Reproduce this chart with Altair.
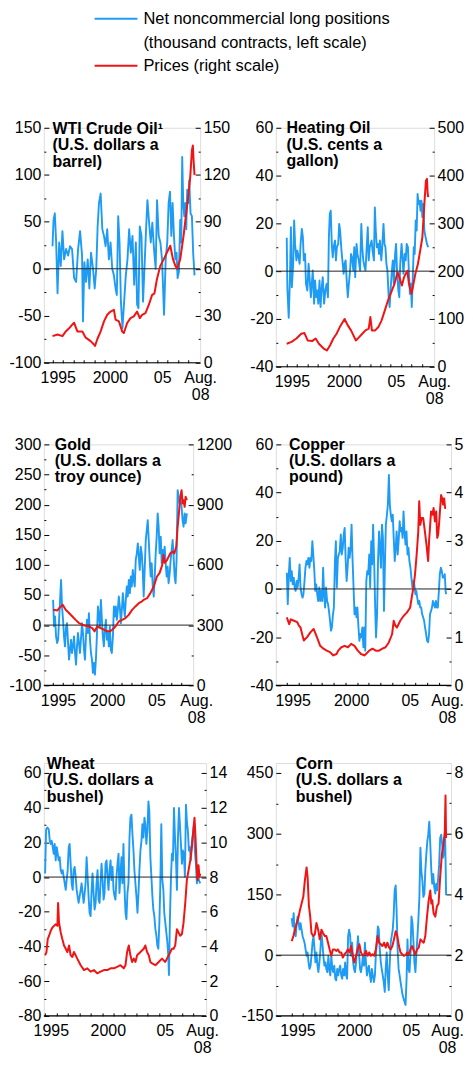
import altair as alt
import pandas as pd

FONT = "Liberation Sans"
BLUE = "#1E9BF5"
RED = "#F01414"
INK = "#000000"

LEGEND_LINES = ["Net noncommercial long positions",
                "(thousand contracts, left scale)",
                "Prices (right scale)"]
TITLES = ["WTI Crude Oil\u00b9\n(U.S. dollars a\nbarrel)",
          "Heating Oil\n(U.S. cents a\ngallon)",
          "Gold\n(U.S. dollars a\ntroy ounce)",
          "Copper\n(U.S. dollars a\npound)",
          "Wheat\n(U.S. dollars a\nbushel)",
          "Corn\n(U.S. dollars a\nbushel)"]
YEAR_TICKS = list(range(1995, 2009))

# ---------------- data: (year, value) ----------------
WTI_POS = [(1995.00,24),(1995.10,52),(1995.22,59),(1995.35,28),(1995.48,-26),(1995.64,28),(1995.79,3),(1995.95,40),(1996.11,10),(1996.30,21),
           (1996.49,14),(1996.68,24),(1996.87,21),(1997.07,-10),(1997.26,-14),(1997.45,21),(1997.64,40),(1997.83,14),(1997.92,-56),(1998.05,7),
           (1998.21,-14),(1998.37,10),(1998.53,-21),(1998.69,17),(1998.88,0),(1999.04,-21),(1999.19,0),(1999.32,45),(1999.45,70),(1999.61,80),
           (1999.77,42),(1999.93,35),(2000.08,24),(2000.24,42),(2000.40,10),(2000.56,28),(2000.72,0),(2000.88,-7),(2001.04,-21),(2001.16,-28),
           (2001.29,56),(2001.42,28),(2001.55,-35),(2001.70,-63),(2001.86,-35),(2002.02,-7),(2002.18,10),(2002.34,42),(2002.50,17),(2002.66,35),
           (2002.82,-17),(2002.98,28),(2003.10,-38),(2003.23,-42),(2003.36,45),(2003.52,35),(2003.67,-35),(2003.83,7),(2003.96,42),(2004.09,73),
           (2004.25,49),(2004.41,28),(2004.56,49),(2004.72,21),(2004.88,0),(2005.01,73),(2005.17,35),(2005.33,28),(2005.49,10),(2005.68,-49),
           (2005.84,10),(2005.99,28),(2006.12,70),(2006.25,82),(2006.38,35),(2006.50,70),(2006.63,35),(2006.76,10),(2006.88,17),(2006.98,-10),
           (2007.11,-3),(2007.23,52),(2007.33,28),(2007.42,119),(2007.52,70),(2007.62,56),(2007.71,70),(2007.81,42),(2007.90,84),(2008.00,70),
           (2008.09,94),(2008.22,59),(2008.35,56),(2008.47,17),(2008.60,-7)]
WTI_PRICE = [(1995.00,17),(1995.48,18),(1995.95,17),(1996.27,20),(1996.59,22),(1996.91,24.5),(1997.07,25.5),(1997.38,20),(1997.86,20),(1998.18,16),
             (1998.65,13.8),(1998.97,11.7),(1999.07,10.7),(1999.29,15),(1999.61,20),(1999.93,26.4),(2000.24,30.6),(2000.56,32.7),(2000.88,33.8),(2001.04,27.5),
             (2001.36,26.4),(2001.67,20),(2001.83,19),(2002.15,25.4),(2002.47,28.5),(2002.79,29.6),(2003.10,32.7),(2003.36,28.5),(2003.58,30.6),(2003.90,31.7),
             (2004.22,36.9),(2004.53,43.2),(2004.76,44.3),(2005.01,53.7),(2005.33,62),(2005.65,66),(2005.96,70.5),(2006.28,74.7),(2006.53,66.3),(2006.76,62),
             (2006.92,60),(2007.23,66),(2007.55,81),(2007.77,93.6),(2008.03,108),(2008.19,118.7),(2008.35,135.5),(2008.44,138.7),(2008.51,129),(2008.60,119.8)]

HO_POS = [(1995.00,14),(1995.06,-7),(1995.19,-19.5),(1995.31,-2.5),(1995.40,18.4),(1995.49,-6.7),(1995.62,3.1),(1995.71,21.2),(1995.80,11.4),(1995.93,4.5),
          (1996.02,8.6),(1996.14,5.8),(1996.24,3.1),(1996.33,11.4),(1996.45,17.7),(1996.55,14.2),(1996.64,4.5),(1996.76,7.2),(1996.85,-5.3),(1996.98,-8.1),
          (1997.10,3.1),(1997.19,-2.5),(1997.32,-10.9),(1997.41,-5.3),(1997.50,0.3),(1997.63,-13.6),(1997.72,-3.9),(1997.84,-10.9),(1997.94,-8.1),(1998.03,-13.6),
          (1998.15,-3.9),(1998.25,-15),(1998.34,-8.1),(1998.46,-2.5),(1998.59,-13.6),(1998.71,-8.1),(1998.83,-5.3),(1998.96,-10.9),(1999.05,14.2),(1999.14,24),
          (1999.23,25.3),(1999.33,11.4),(1999.42,5.8),(1999.51,10),(1999.64,12.8),(1999.73,4.5),(1999.82,10),(1999.95,11.4),(2000.04,19.8),(2000.13,17),
          (2000.26,8.6),(2000.35,4.5),(2000.47,-1.1),(2000.56,3.1),(2000.66,4.5),(2000.78,-5.3),(2000.87,-10.9),(2000.97,-5.3),(2001.09,0.3),(2001.18,7.2),
          (2001.28,5.8),(2001.40,0.3),(2001.49,10),(2001.58,-2.5),(2001.71,11.4),(2001.80,7.2),(2001.92,4.5),(2002.05,0.3),(2002.17,19.8),(2002.26,10),
          (2002.36,4.5),(2002.48,1.7),(2002.57,0.3),(2002.67,8.6),(2002.79,18.4),(2002.88,4.5),(2002.98,10),(2003.07,11.4),(2003.16,12.8),(2003.25,8.6),
          (2003.38,4.5),(2003.47,26.7),(2003.56,17),(2003.66,10),(2003.78,11.4),(2003.87,7.2),(2003.96,12.8),(2004.09,4.5),(2004.18,10),(2004.30,19.8),
          (2004.40,11.4),(2004.49,10),(2004.58,3.1),(2004.68,0.3),(2004.80,-10.9),(2004.89,-15),(2004.98,-8.1),(2005.11,0.3),(2005.20,4.5),(2005.29,-5.3),
          (2005.42,7.2),(2005.51,11.4),(2005.60,0.3),(2005.73,-8.1),(2005.82,-10.9),(2005.91,3.1),(2006.04,11.4),(2006.13,5.8),(2006.22,-1.1),(2006.34,7.2),
          (2006.44,4.5),(2006.53,11.4),(2006.65,10),(2006.75,-1.1),(2006.84,-9.5),(2006.93,-5.3),(2007.02,-15),(2007.12,-2.5),(2007.21,10),(2007.30,7.2),
          (2007.40,21.2),(2007.49,17),(2007.58,32.3),(2007.67,28.1),(2007.77,29.5),(2007.86,25.3),(2007.95,29.5),(2008.04,22.6),(2008.14,28.1),(2008.23,17),
          (2008.35,14.2),(2008.48,11.4),(2008.60,10)]
HO_PRICE = [(1995.00,48),(1995.46,52),(1995.93,59),(1996.39,69),(1996.70,70.5),(1997.01,55),(1997.47,54),(1997.78,59),(1998.09,48),(1998.55,38),
            (1998.86,34),(1999.17,45),(1999.48,59),(1999.79,69),(2000.10,83),(2000.56,100),(2000.87,86.5),(2001.18,76),(2001.65,55),(2001.96,62),
            (2002.26,69),(2002.57,76),(2002.88,79.5),(2003.04,104),(2003.19,76),(2003.50,76),(2003.81,83),(2004.12,97),(2004.43,118),(2004.74,139),
            (2005.05,156),(2005.36,173.5),(2005.66,198),(2005.82,187.5),(2006.07,170),(2006.28,187.5),(2006.59,201),(2006.75,173.5),(2006.99,152.6),(2007.15,170),
            (2007.36,194),(2007.61,215),(2007.83,243),(2008.04,271),(2008.23,341),(2008.38,389),(2008.48,393),(2008.54,365),(2008.60,355)]

GOLD_POS = [(1995.00,41.9),(1995.10,-2.2),(1995.20,14.3),(1995.30,-18.8),(1995.41,-29.8),(1995.51,-24.3),(1995.61,8.8),(1995.71,41.9),(1995.81,75.0),(1995.91,30.9),
            (1996.01,8.8),(1996.11,-18.8),(1996.21,-35.3),(1996.32,-2.2),(1996.42,3.3),(1996.52,-29.8),(1996.62,-57.4),(1996.72,-40.8),(1996.82,-24.3),(1996.92,-46.3),
            (1997.02,-35.3),(1997.13,-18.8),(1997.23,-46.3),(1997.33,-65.7),(1997.43,-35.3),(1997.53,-13.2),(1997.63,-29.8),(1997.73,-46.3),(1997.83,-24.3),(1997.94,3.3),
            (1998.04,-13.2),(1998.14,-40.8),(1998.24,-57.4),(1998.34,-18.8),(1998.44,8.8),(1998.54,-13.2),(1998.64,19.9),(1998.75,-24.3),(1998.85,-46.3),(1998.95,-57.4),
            (1999.05,-79.4),(1999.15,-62.9),(1999.25,-82.2),(1999.35,-57.4),(1999.45,-18.8),(1999.56,30.9),(1999.66,14.3),(1999.76,-2.2),(1999.86,41.9),(1999.96,8.8),
            (2000.06,-18.8),(2000.16,-35.3),(2000.26,-7.7),(2000.37,8.8),(2000.47,-24.3),(2000.57,-13.2),(2000.67,-35.3),(2000.77,-2.2),(2000.87,-40.8),(2000.97,-46.3),
            (2001.08,-18.8),(2001.18,30.9),(2001.28,14.3),(2001.38,30.9),(2001.48,8.8),(2001.58,25.4),(2001.68,47.4),(2001.78,30.9),(2001.89,3.3),(2001.99,25.4),
            (2002.09,53.0),(2002.19,30.9),(2002.29,14.3),(2002.39,41.9),(2002.49,64.0),(2002.59,47.4),(2002.70,75.0),(2002.80,53.0),(2002.90,80.6),(2003.00,64.0),
            (2003.10,91.6),(2003.20,75.0),(2003.30,64.0),(2003.40,108.1),(2003.51,119.2),(2003.61,135.7),(2003.71,113.7),(2003.81,91.6),(2003.91,130.2),(2004.01,119.2),
            (2004.11,91.6),(2004.21,47.4),(2004.32,97.1),(2004.42,141.2),(2004.52,157.8),(2004.62,174.3),(2004.72,141.2),(2004.82,108.1),(2004.92,80.6),(2005.02,102.6),
            (2005.13,64.0),(2005.23,47.4),(2005.33,80.6),(2005.43,119.2),(2005.53,146.8),(2005.63,185.4),(2005.73,163.3),(2005.83,119.2),(2005.94,146.8),(2006.04,102.6),
            (2006.14,124.7),(2006.24,108.1),(2006.34,130.2),(2006.44,102.6),(2006.54,80.6),(2006.64,97.1),(2006.74,69.5),(2006.85,86.1),(2006.95,108.1),(2007.05,124.7),
            (2007.15,141.2),(2007.25,113.7),(2007.35,80.6),(2007.45,69.5),(2007.55,108.1),(2007.66,224.0),(2007.76,213.0),(2007.86,201.9),(2007.96,207.4),(2008.06,196.4),
            (2008.16,174.3),(2008.26,163.3),(2008.37,185.4),(2008.47,168.8),(2008.60,185.4)]
GOLD_PRICE = [(1995.00,376),(1995.44,373),(1995.78,393),(1995.98,401),(1996.28,376),(1996.62,360),(1996.96,343),(1997.29,326),(1997.63,310),(1997.97,302),
              (1998.31,297),(1998.64,293),(1998.98,285),(1999.22,269),(1999.49,293),(1999.83,285),(2000.16,277),(2000.50,269),(2000.77,269),(2001.01,277),
              (2001.34,293),(2001.68,318),(2002.02,326),(2002.36,335),(2002.69,351),(2003.03,376),(2003.37,393),(2003.71,409),(2004.04,418),(2004.21,426),
              (2004.55,434),(2004.89,459),(2005.23,492),(2005.56,542),(2005.83,560),(2006.10,600),(2006.22,650),(2006.35,610),(2006.58,624),(2006.91,657),
              (2007.18,666),(2007.32,657),(2007.52,691),(2007.66,790),(2007.79,856),(2007.93,939),(2008.06,972),(2008.16,906),(2008.26,922),(2008.37,889),
              (2008.47,939),(2008.60,922)]

COPPER_POS = [(1995.00,6.7),(1995.08,-6.3),(1995.17,6.1),(1995.25,12.9),(1995.34,3.3),(1995.42,7.4),(1995.50,1.9),(1995.59,4.7),(1995.67,0.6),(1995.75,-0.8),
              (1995.84,3.3),(1995.92,0.6),(1996.01,4.7),(1996.09,10.2),(1996.17,0.6),(1996.26,-2.2),(1996.34,-3.6),(1996.42,-2.2),(1996.51,3.3),(1996.59,8.8),
              (1996.68,11.6),(1996.76,10.2),(1996.84,12.9),(1996.93,8.8),(1997.01,12.9),(1997.09,11.6),(1997.18,19.8),(1997.26,14.3),(1997.35,7.4),(1997.43,-0.8),
              (1997.51,1.9),(1997.60,-2.2),(1997.68,-5.0),(1997.77,0.6),(1997.85,-5.0),(1997.93,-0.8),(1998.02,-5.0),(1998.10,8.8),(1998.18,-2.2),(1998.27,-7.7),
              (1998.35,0.6),(1998.44,-5.0),(1998.52,-6.3),(1998.60,-9.1),(1998.69,-13.2),(1998.77,-17.3),(1998.85,-16.0),(1998.94,-10.5),(1999.02,-7.7),(1999.11,11.6),
              (1999.19,19.8),(1999.27,0.6),(1999.36,12.9),(1999.44,14.3),(1999.52,15.7),(1999.61,22.6),(1999.69,14.3),(1999.78,17.1),(1999.86,22.6),(1999.94,25.3),
              (2000.03,11.6),(2000.11,3.3),(2000.19,8.8),(2000.28,17.1),(2000.36,12.9),(2000.45,17.1),(2000.53,26.7),(2000.61,12.9),(2000.70,0.6),(2000.78,-10.5),
              (2000.87,-7.7),(2000.95,-11.8),(2001.03,-7.7),(2001.12,-16.0),(2001.20,-21.5),(2001.28,-18.7),(2001.37,-20.1),(2001.45,-16.0),(2001.54,-24.2),(2001.62,-16.0),
              (2001.70,-25.6),(2001.79,3.3),(2001.87,7.4),(2001.95,6.1),(2002.04,14.3),(2002.12,0.6),(2002.21,19.8),(2002.29,10.2),(2002.37,26.7),(2002.46,11.6),
              (2002.54,-6.3),(2002.62,-20.1),(2002.71,-10.5),(2002.79,11.6),(2002.88,23.9),(2002.96,17.1),(2003.04,8.8),(2003.13,26.7),(2003.21,21.2),(2003.30,-9.1),
              (2003.38,10.2),(2003.46,26.7),(2003.55,30.8),(2003.63,34.9),(2003.72,47.3),(2003.80,34.9),(2003.88,30.8),(2003.97,28.1),(2004.05,30.8),(2004.13,21.2),
              (2004.22,11.6),(2004.30,17.1),(2004.38,23.9),(2004.47,14.3),(2004.55,19.8),(2004.64,28.1),(2004.72,23.9),(2004.80,25.3),(2004.89,21.2),(2004.97,32.2),
              (2005.05,23.9),(2005.14,18.4),(2005.22,23.9),(2005.31,14.3),(2005.39,17.1),(2005.47,11.6),(2005.56,8.8),(2005.64,4.7),(2005.73,0.6),(2005.81,3.3),
              (2005.89,1.9),(2005.98,-2.2),(2006.06,-0.8),(2006.14,-3.6),(2006.23,-6.3),(2006.31,-5.0),(2006.40,-7.7),(2006.48,-7.7),(2006.56,-10.5),(2006.65,-11.8),
              (2006.73,-13.2),(2006.81,-16.0),(2006.90,-18.7),(2006.98,-21.5),(2007.07,-22.1),(2007.15,-18.7),(2007.23,-10.5),(2007.32,-9.1),(2007.40,-7.7),(2007.48,-5.0),
              (2007.57,-6.3),(2007.65,-7.7),(2007.74,-5.0),(2007.82,-7.7),(2007.90,-7.7),(2007.99,-0.8),(2008.07,6.1),(2008.16,8.8),(2008.24,7.4),(2008.32,4.7),
              (2008.41,4.7),(2008.49,6.1),(2008.57,-0.8),(2008.60,-2.2)]
COPPER_PRICE = [(1995.00,1.41),(1995.20,1.27),(1995.34,1.37),(1995.61,1.34),(1995.89,1.31),(1996.03,1.24),(1996.17,1.20),(1996.31,1.06),(1996.45,0.93),(1996.73,1.00),
                (1997.01,1.10),(1997.29,1.17),(1997.57,1.00),(1997.85,0.82),(1998.13,0.76),(1998.41,0.72),(1998.69,0.69),(1998.97,0.62),(1999.25,0.65),(1999.39,0.72),
                (1999.66,0.79),(1999.94,0.82),(2000.22,0.79),(2000.50,0.86),(2000.78,0.82),(2001.06,0.72),(2001.34,0.65),(2001.62,0.62),(2001.76,0.65),(2002.04,0.72),
                (2002.32,0.76),(2002.60,0.72),(2002.88,0.72),(2003.16,0.76),(2003.43,0.79),(2003.71,0.89),(2003.99,1.06),(2004.13,1.34),(2004.27,1.24),(2004.41,1.20),
                (2004.69,1.34),(2004.97,1.44),(2005.25,1.51),(2005.53,1.61),(2005.67,1.82),(2005.81,2.03),(2005.95,2.30),(2006.09,2.71),(2006.23,3.20),(2006.31,3.82),
                (2006.40,3.33),(2006.51,3.47),(2006.65,3.47),(2006.79,3.20),(2006.93,2.92),(2007.07,2.58),(2007.15,2.99),(2007.23,3.27),(2007.32,3.61),(2007.43,3.54),
                (2007.54,3.68),(2007.65,3.40),(2007.76,3.61),(2007.85,3.06),(2007.93,3.13),(2008.02,3.40),(2008.10,3.68),(2008.18,3.95),(2008.27,3.88),(2008.35,3.75),
                (2008.44,3.88),(2008.52,3.68),(2008.60,3.68)]

WHEAT_POS = [(1995.00,2.1),(1995.09,27.5),(1995.20,28.5),(1995.32,27.5),(1995.41,20.9),(1995.50,19.1),(1995.58,20.9),(1995.67,17.2),(1995.76,13.4),(1995.84,19.1),
             (1995.93,9.6),(1996.02,17.2),(1996.11,13.4),(1996.19,9.6),(1996.28,11.5),(1996.37,4.0),(1996.46,2.1),(1996.54,4.0),(1996.63,0.2),(1996.72,-3.6),
             (1996.81,-7.4),(1996.89,-1.7),(1996.98,4.0),(1997.07,17.2),(1997.15,19.1),(1997.24,7.7),(1997.33,-3.6),(1997.42,-7.4),(1997.50,4.0),(1997.59,5.8),
             (1997.68,0.2),(1997.77,-7.4),(1997.85,-11.1),(1997.94,-14.9),(1998.03,-11.1),(1998.12,-7.4),(1998.20,-3.6),(1998.29,-9.2),(1998.38,-14.9),(1998.47,-9.2),
             (1998.55,-3.6),(1998.64,11.5),(1998.73,0.2),(1998.81,-11.1),(1998.90,-20.6),(1998.99,-22.5),(1999.08,-7.4),(1999.16,2.1),(1999.25,-9.2),(1999.34,-18.7),
             (1999.43,-14.9),(1999.51,-3.6),(1999.60,4.0),(1999.69,-13.0),(1999.78,-14.9),(1999.86,-3.6),(1999.95,7.7),(2000.04,-1.7),(2000.13,-13.0),(2000.21,-9.2),
             (2000.30,7.7),(2000.39,9.6),(2000.47,0.2),(2000.56,-7.4),(2000.65,4.0),(2000.74,9.6),(2000.82,-1.7),(2000.91,5.8),(2001.00,-7.4),(2001.09,-11.1),
             (2001.17,-13.0),(2001.26,0.2),(2001.35,7.7),(2001.44,13.4),(2001.52,-9.2),(2001.61,2.1),(2001.70,11.5),(2001.78,-3.6),(2001.87,19.1),(2001.96,-5.5),
             (2002.05,-20.6),(2002.13,-24.3),(2002.22,-9.2),(2002.31,-3.6),(2002.40,22.8),(2002.48,34.2),(2002.57,36.0),(2002.66,24.7),(2002.75,15.3),(2002.83,4.0),
             (2002.92,-3.6),(2003.01,-11.1),(2003.10,-20.6),(2003.19,-9.2),(2003.27,4.0),(2003.36,15.3),(2003.45,20.9),(2003.53,30.4),(2003.62,22.8),(2003.71,34.2),
             (2003.79,30.4),(2003.88,19.1),(2003.97,26.6),(2004.06,43.6),(2004.14,37.9),(2004.23,11.5),(2004.32,0.2),(2004.41,-11.1),(2004.49,-18.7),(2004.58,-22.5),
             (2004.67,-30.0),(2004.76,-33.8),(2004.84,-39.4),(2004.93,-41.3),(2005.02,-26.2),(2005.10,-5.5),(2005.19,30.4),(2005.28,-1.7),(2005.37,-7.4),(2005.45,-20.6),
             (2005.54,-26.2),(2005.63,-31.9),(2005.72,-37.5),(2005.80,-45.1),(2005.86,-56.4),(2005.95,-22.5),(2006.04,0.2),(2006.12,13.4),(2006.21,9.6),(2006.30,39.8),
             (2006.39,22.8),(2006.47,11.5),(2006.56,-7.4),(2006.65,22.8),(2006.74,39.8),(2006.82,30.4),(2006.91,19.1),(2007.00,7.7),(2007.08,15.3),(2007.17,13.4),
             (2007.26,0.2),(2007.35,41.7),(2007.43,32.3),(2007.52,26.6),(2007.61,15.3),(2007.70,17.2),(2007.78,9.6),(2007.87,20.9),(2007.96,24.7),(2008.05,30.4),
             (2008.13,15.3),(2008.22,7.7),(2008.31,-3.6),(2008.40,4.0),(2008.48,-1.7),(2008.60,-3.6)]
WHEAT_PRICE = [(1995.00,3.49),(1995.12,3.68),(1995.23,4.43),(1995.35,4.62),(1995.50,4.91),(1995.64,5.09),(1995.79,5.19),(1995.93,5.28),(1996.08,5.19),(1996.14,6.51),
               (1996.22,5.38),(1996.37,4.81),(1996.51,4.43),(1996.66,4.06),(1996.81,3.87),(1996.95,3.68),(1997.10,4.06),(1997.24,3.49),(1997.39,3.40),(1997.53,3.68),
               (1997.68,3.49),(1997.82,3.30),(1997.97,3.11),(1998.12,2.92),(1998.41,2.64),(1998.70,2.74),(1998.99,2.55),(1999.28,2.64),(1999.57,2.45),(1999.86,2.55),
               (2000.15,2.64),(2000.45,2.64),(2000.74,2.74),(2001.03,2.74),(2001.32,2.83),(2001.61,2.92),(2001.90,2.74),(2002.05,2.92),(2002.19,3.68),(2002.34,4.06),
               (2002.48,3.49),(2002.63,3.11),(2002.78,3.30),(2002.92,3.11),(2003.07,3.49),(2003.36,3.68),(2003.65,3.87),(2003.79,4.06),(2003.94,3.68),(2004.09,3.49),
               (2004.23,3.11),(2004.38,3.02),(2004.67,2.92),(2004.96,3.11),(2005.25,3.30),(2005.54,3.11),(2005.83,3.49),(2005.98,3.68),(2006.12,3.87),(2006.27,3.87),
               (2006.41,4.06),(2006.56,5.00),(2006.70,4.81),(2006.85,4.62),(2007.00,4.72),(2007.14,5.38),(2007.29,6.51),(2007.43,7.83),(2007.58,8.40),(2007.73,8.96),
               (2007.87,9.72),(2008.02,10.85),(2008.10,11.42),(2008.19,10.28),(2008.28,8.77),(2008.37,7.83),(2008.45,8.68),(2008.54,8.02),(2008.60,8.21)]

CORN_POS = [(1995.00,91.4),(1995.09,71.2),(1995.17,103.5),(1995.26,55.0),(1995.35,46.9),(1995.44,79.2),(1995.52,95.4),(1995.61,79.2),(1995.70,63.1),(1995.78,79.2),
            (1995.87,63.1),(1995.96,46.9),(1996.05,38.8),(1996.13,30.7),(1996.22,14.6),(1996.31,-1.6),(1996.40,6.5),(1996.48,-17.8),(1996.57,-34.0),(1996.66,-25.9),
            (1996.74,-1.6),(1996.83,30.7),(1996.92,46.9),(1997.01,14.6),(1997.09,-17.8),(1997.18,6.5),(1997.27,-25.9),(1997.35,-42.0),(1997.44,-17.8),(1997.53,14.6),
            (1997.62,55.0),(1997.70,30.7),(1997.79,-1.6),(1997.88,-25.9),(1997.97,-17.8),(1998.05,-34.0),(1998.14,-42.0),(1998.23,-1.6),(1998.31,-34.0),(1998.40,-50.1),
            (1998.49,-1.6),(1998.58,-34.0),(1998.66,-42.0),(1998.75,-25.9),(1998.84,-58.2),(1998.92,-62.3),(1999.01,-34.0),(1999.10,-50.1),(1999.19,-34.0),(1999.27,-25.9),
            (1999.36,-50.1),(1999.45,-58.2),(1999.53,-34.0),(1999.62,-50.1),(1999.71,-17.8),(1999.80,-50.1),(1999.88,-58.2),(1999.97,46.9),(2000.06,63.1),(2000.15,46.9),
            (2000.23,-1.6),(2000.32,30.7),(2000.41,-17.8),(2000.49,-34.0),(2000.58,-42.0),(2000.67,-17.8),(2000.76,14.6),(2000.84,46.9),(2000.93,6.5),(2001.02,-34.0),
            (2001.10,-42.0),(2001.19,-25.9),(2001.28,-1.6),(2001.37,-25.9),(2001.45,30.7),(2001.54,-17.8),(2001.63,-50.1),(2001.72,-34.0),(2001.80,-25.9),(2001.89,-50.1),
            (2001.98,-66.3),(2002.06,-34.0),(2002.15,-50.1),(2002.24,-66.3),(2002.33,-50.1),(2002.41,-1.6),(2002.50,30.7),(2002.59,71.2),(2002.67,63.1),(2002.76,14.6),
            (2002.85,-17.8),(2002.93,-34.0),(2003.02,-50.1),(2003.11,-66.3),(2003.20,-90.6),(2003.28,-34.0),(2003.37,6.5),(2003.46,-50.1),(2003.55,-86.5),(2003.63,-25.9),
            (2003.72,30.7),(2003.81,46.9),(2003.90,63.1),(2003.98,95.4),(2004.07,160.1),(2004.16,172.2),(2004.24,111.6),(2004.33,14.6),(2004.42,-34.0),(2004.51,-50.1),
            (2004.59,-66.3),(2004.68,-82.5),(2004.77,-98.6),(2004.85,-106.7),(2004.94,-114.8),(2005.03,-122.9),(2005.12,-58.2),(2005.20,38.8),(2005.29,-34.0),(2005.38,-42.0),
            (2005.47,6.5),(2005.55,95.4),(2005.64,79.2),(2005.73,30.7),(2005.81,-17.8),(2005.90,-42.0),(2005.99,6.5),(2006.08,46.9),(2006.16,87.3),(2006.25,143.9),
            (2006.34,265.2),(2006.42,208.6),(2006.51,184.4),(2006.60,143.9),(2006.69,152.0),(2006.77,208.6),(2006.86,249.0),(2006.95,281.4),(2007.03,297.6),(2007.12,329.9),
            (2007.21,273.3),(2007.30,208.6),(2007.38,176.3),(2007.47,200.5),(2007.56,168.2),(2007.65,152.0),(2007.73,176.3),(2007.82,160.1),(2007.91,192.4),(2007.99,224.8),
            (2008.08,289.5),(2008.17,297.6),(2008.26,273.3),(2008.34,241.0),(2008.43,257.1),(2008.52,289.5),(2008.58,192.4),(2008.60,148.0)]
CORN_PRICE = [(1995.00,2.46),(1995.15,2.63),(1995.29,2.84),(1995.44,3.06),(1995.58,3.22),(1995.73,3.49),(1995.87,3.70),(1996.02,3.92),(1996.16,4.46),(1996.31,4.89),
              (1996.40,4.57),(1996.51,3.65),(1996.63,3.27),(1996.74,2.73),(1996.89,2.63),(1997.03,2.68),(1997.18,3.06),(1997.33,2.84),(1997.47,2.52),(1997.62,2.84),
              (1997.76,2.73),(1997.91,2.63),(1998.05,2.63),(1998.20,2.41),(1998.34,2.19),(1998.49,1.98),(1998.63,2.19),(1998.78,2.19),(1998.92,2.14),(1999.07,2.19),
              (1999.22,2.09),(1999.36,2.09),(1999.51,1.92),(1999.65,2.03),(1999.80,2.09),(1999.94,2.19),(2000.09,2.09),(2000.23,2.30),(2000.38,1.98),(2000.52,1.76),
              (2000.67,1.98),(2000.81,2.19),(2000.96,2.36),(2001.10,2.09),(2001.25,1.98),(2001.40,2.03),(2001.54,2.14),(2001.69,1.98),(2001.83,2.09),(2001.98,1.98),
              (2002.12,2.03),(2002.27,1.98),(2002.41,2.19),(2002.56,2.63),(2002.70,2.41),(2002.85,2.36),(2002.99,2.30),(2003.14,2.41),(2003.28,2.25),(2003.43,2.41),
              (2003.58,2.25),(2003.72,2.19),(2003.87,2.30),(2004.01,2.52),(2004.16,2.79),(2004.30,2.63),(2004.45,2.30),(2004.59,2.09),(2004.74,2.03),(2004.88,1.98),
              (2005.03,2.00),(2005.17,2.09),(2005.32,2.03),(2005.47,2.19),(2005.61,2.30),(2005.76,2.14),(2005.90,2.03),(2006.05,2.19),(2006.19,2.25),(2006.34,2.52),
              (2006.48,2.46),(2006.63,2.41),(2006.77,2.63),(2006.92,3.27),(2007.07,3.81),(2007.21,4.13),(2007.30,3.70),(2007.38,3.81),(2007.50,3.38),(2007.65,3.27),
              (2007.79,3.60),(2007.94,3.70),(2008.08,4.57),(2008.23,5.32),(2008.37,5.64),(2008.49,6.08),(2008.55,7.26),(2008.60,5.86)]


def tick_values(lo, hi, step):
    out, v = [], lo
    while v <= hi + 1e-9:
        out.append(round(v, 6))
        v += step
    return out


def y_axis(orient, lo, hi, step, major):
    test = f"abs(datum.value / {major} - round(datum.value / {major})) < 0.001"
    return alt.Axis(orient=orient, values=tick_values(lo, hi, step), offset=-5, tickSize=5,
                    tickColor=INK, tickWidth=1, domain=False, grid=False, title=None,
                    labelExpr=f"({test}) ? ('' + datum.value) : ''",
                    tickDash={"condition": {"test": test, "value": []}, "value": [0, 3, 2, 0]},
                    labelPadding=3, labelFlush=False, labelOverlap=False, labelBound=False,
                    labelFont=FONT, labelFontSize=16, labelColor=INK)


def panel(pos, price, title, left, right, xdom, width, height, ext, title_xy,
          aug_shift=0, legend=False):
    lo, hi, lstep, lmajor = left
    rlo, rhi, rstep, rmajor = right
    h_real = height - ext
    hi_e = hi + ext * (hi - lo) / h_real
    rhi_e = rhi + ext * (rhi - rlo) / h_real
    d0, d1 = xdom
    ppy = width / (d1 - d0)
    off_half = 0.5 * ppy
    off_aug = width - aug_shift - (2008 - d0) * ppy

    x_axis = alt.Axis(values=YEAR_TICKS, offset=-3, tickSize=3, tickColor=INK, tickWidth=1,
                      domain=False, grid=False, title=None,
                      labelExpr="datum.value == 1995 ? '1995' : datum.value == 2000 ? '2000' : "
                                "datum.value == 2005 ? '05' : datum.value == 2008 ? ['Aug.', '08'] : ''",
                      labelOffset={"condition": {"test": "datum.value == 2008", "value": off_aug},
                                   "value": off_half},
                      labelPadding=7, labelLineHeight=17, labelBaseline="top",
                      labelFlush=False, labelOverlap=False, labelBound=False,
                      labelFont=FONT, labelFontSize=16, labelColor=INK)
    X = alt.X("year:Q", scale=alt.Scale(domain=[d0, d1], nice=False, zero=False), axis=x_axis)

    def yl_scale():
        return alt.Scale(domain=[lo, hi_e], nice=False, zero=False)

    yr_scale = alt.Scale(domain=[rlo, rhi_e], nice=False, zero=False)

    pos_df = pd.DataFrame(pos, columns=["year", "value"])
    price_df = pd.DataFrame(price, columns=["year", "value"])

    blue = alt.Chart(pos_df).mark_line(color=BLUE, strokeWidth=1.9, strokeJoin="round").encode(
        x=X, y=alt.Y("value:Q", scale=yl_scale(), axis=y_axis("left", lo, hi, lstep, lmajor)))
    zero = alt.Chart(pd.DataFrame({"value": [0]})).mark_rule(color="#222222", strokeWidth=1).encode(
        y=alt.Y("value:Q", scale=yl_scale(), axis=None))
    base = alt.Chart(pd.DataFrame({"value": [lo]})).mark_rule(color=INK, strokeWidth=1.2).encode(
        y=alt.Y("value:Q", scale=yl_scale(), axis=None))
    red = alt.Chart(price_df).mark_line(color=RED, strokeWidth=2, strokeJoin="round").encode(
        x=X, y=alt.Y("value:Q", scale=yr_scale, axis=y_axis("right", rlo, rhi, rstep, rmajor)))

    ttl = alt.Chart(pd.DataFrame({"t": [title]})).mark_text(
        align="left", baseline="top", font=FONT, fontSize=16, fontWeight="bold",
        lineBreak="\n", lineHeight=16.5, color=INK).encode(
        text="t:N", x=alt.value(title_xy[0]), y=alt.value(title_xy[1]))

    layers = [blue, zero, base, red, ttl]
    if legend:
        one = pd.DataFrame({"k": [0]})
        layers += [
            alt.Chart(one).mark_rule(color=BLUE, strokeWidth=2).encode(
                x=alt.value(51), x2=alt.value(94), y=alt.value(-109.5)),
            alt.Chart(one).mark_rule(color=RED, strokeWidth=2).encode(
                x=alt.value(51), x2=alt.value(94), y=alt.value(-62.2)),
        ]
        for line, ty in zip(LEGEND_LINES, [-116.8, -93.5, -70.2]):
            layers.append(alt.Chart(pd.DataFrame({"t": [line]})).mark_text(
                align="left", baseline="top", font=FONT, fontSize=16.5, color=INK).encode(
                text="t:N", x=alt.value(100), y=alt.value(ty)))
    return alt.layer(*layers).resolve_scale(y="independent").properties(width=width, height=height)


p1 = panel(WTI_POS, WTI_PRICE, TITLES[0], (-100, 150, 25, 50), (0, 150, 15, 30),
           (1994.17, 2009.14), 157, 236, 0, (8.7, -6.8), aug_shift=0, legend=True)
p2 = panel(HO_POS, HO_PRICE, TITLES[1], (-40, 60, 10, 20), (0, 500, 50, 100),
           (1993.95, 2009.17), 159, 240, 0, (10.7, -7.5), aug_shift=0)
p3 = panel(GOLD_POS, GOLD_PRICE, TITLES[2], (-100, 300, 25, 50), (0, 1200, 150, 300),
           (1994.06, 2009.24), 150, 242, 0, (11, -7.8), aug_shift=-3)
p4 = panel(COPPER_POS, COPPER_PRICE, TITLES[3], (-40, 60, 10, 20), (0, 5, 0.5, 1),
           (1994.06, 2009.03), 176, 242, 0, (13.3, -7.8), aug_shift=4)
p5 = panel(WHEAT_POS, WHEAT_PRICE, TITLES[4], (-80, 60, 10, 20), (0, 14, 1, 2),
           (1994.89, 2009.12), 163, 254, 10, (3, -7.1), aug_shift=4)
p6 = panel(CORN_POS, CORN_PRICE, TITLES[5], (-150, 450, 75, 150), (0, 8, 1, 2),
           (1993.60, 2009.04), 176, 254, 10, (20, -7.1), aug_shift=4)

chart = alt.concat(p1, p2, p3, p4, p5, p6, columns=2,
                   spacing={"row": 78, "column": 70}, bounds="flush").properties(
    padding=0).configure_view(stroke=None).configure(font=FONT)

chart.save("out.html", embed_options={"renderer": "svg", "actions": False})
